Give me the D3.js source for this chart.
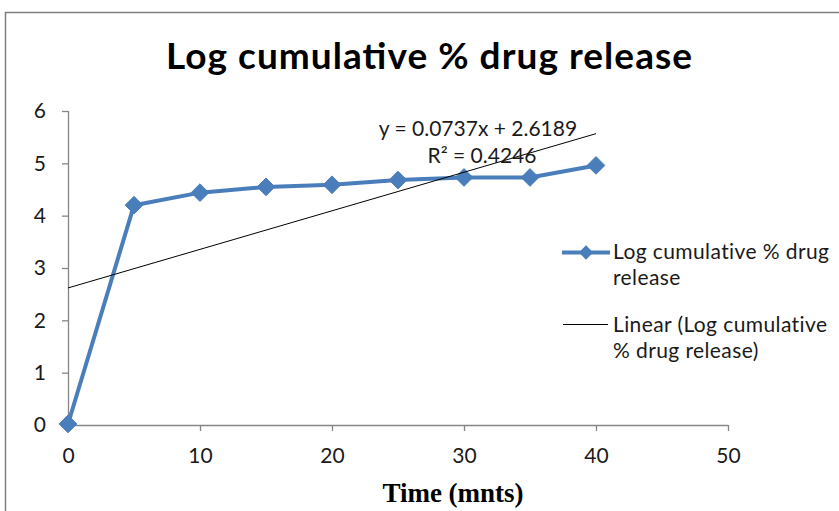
<!DOCTYPE html>
<html>
<head>
<meta charset="utf-8">
<script src="https://cdn.jsdelivr.net/npm/d3@7"></script>
<style>
  html, body { margin: 0; padding: 0; background: #fff; }
  svg { display: block; }
</style>
</head>
<body>
<svg id="chart" width="839" height="511"></svg>
<script>
// Release data: time in minutes and log cumulative % drug release
const times = [0, 5, 10, 15, 20, 25, 30, 35, 40];
const logRelease = [0.02, 4.20, 4.44, 4.55, 4.59, 4.68, 4.73, 4.73, 4.96];
const xTicks = [0, 10, 20, 30, 40, 50];
const yTicks = [0, 1, 2, 3, 4, 5, 6];
// Linear trendline coefficients
const slope = 0.0737;
const intercept = 2.6189;
const rSquared = 0.4246;

const titleText = "Log cumulative % drug release";
const xTitle = "Time (mnts)";
const legendSeries = ["Log cumulative % drug", "release"];
const legendTrend = ["Linear (Log cumulative", "% drug release)"];

const svg = d3.select("#chart");
const sans = "Lato, 'Open Sans', sans-serif";
const blue = "#4a7ebb";
const axisGray = "#868686";
const textFill = "#1a1a1a";

// Outer chart frame
svg.append("path")
  .attr("d", "M5.5,511 L5.5,12.5 L839,12.5")
  .attr("fill", "none").attr("stroke", "#7f7f7f").attr("stroke-width", 1.5);

const x = d3.scaleLinear().domain([0, 50]).range([68, 728]);
const y = d3.scaleLinear().domain([0, 6]).range([425, 111]);

// Title
svg.append("text")
  .attr("x", 166).attr("y", 69)
  .attr("font-family", sans).attr("font-weight", "bold")
  .attr("font-size", 37)
  .attr("textLength", 526).attr("lengthAdjust", "spacing")
  .attr("fill", "#000")
  .text(titleText);

// Axes
const xAxis = d3.axisBottom(x).tickValues(xTicks).tickSize(6).tickPadding(17).tickFormat(d3.format("d"));
const yAxis = d3.axisLeft(y).tickValues(yTicks).tickSize(6).tickPadding(16).tickFormat(d3.format("d"));

const gx = svg.append("g").attr("transform", `translate(0,${y(0)})`).call(xAxis);
const gy = svg.append("g").attr("transform", `translate(${x(0)},0)`).call(yAxis);

[gx, gy].forEach(g => {
  g.select(".domain").attr("stroke", axisGray).attr("stroke-width", 1.3);
  g.selectAll(".tick line").attr("stroke", axisGray).attr("stroke-width", 1.3);
  g.selectAll(".tick text")
    .attr("font-family", sans).attr("font-size", 21).attr("fill", textFill);
});
// plain axis lines without end caps
gx.select(".domain").attr("d", `M${x(0)},0.5H${x(50)}`);
gy.select(".domain").attr("d", `M0.5,${y(6)}V${y(0)}`);

// X axis title
svg.append("text")
  .attr("x", 453).attr("y", 502)
  .attr("text-anchor", "middle")
  .attr("font-family", "'Liberation Serif', 'Times New Roman', serif")
  .attr("font-weight", "bold").attr("font-size", 27)
  .text(xTitle);

// Series line
const line = d3.line().x((d, i) => x(times[i])).y(d => y(d));
svg.append("path")
  .datum(logRelease)
  .attr("d", line)
  .attr("fill", "none")
  .attr("stroke", blue)
  .attr("stroke-width", 4)
  .attr("stroke-linejoin", "round");

// Diamond markers
const diamond = d3.symbol().type(d3.symbolDiamond2).size(200);
svg.selectAll(".marker")
  .data(logRelease)
  .join("path")
  .attr("class", "marker")
  .attr("transform", (d, i) => `translate(${x(times[i])},${y(d)})`)
  .attr("d", diamond)
  .attr("fill", blue)
  .attr("stroke", blue).attr("stroke-width", 1);

// Linear trendline across the data range
const tx0 = d3.min(times), tx1 = d3.max(times);
svg.append("line")
  .attr("x1", x(tx0)).attr("y1", y(intercept + slope * tx0))
  .attr("x2", x(tx1)).attr("y2", y(intercept + slope * tx1))
  .attr("stroke", "#000").attr("stroke-width", 1);

// Trendline equation
const eq = svg.append("g")
  .attr("font-family", sans).attr("font-size", 21).attr("fill", textFill)
  .attr("text-anchor", "middle");
eq.append("text").attr("x", 478).attr("y", 136)
  .text(`y = ${slope}x + ${intercept}`);
eq.append("text").attr("x", 482).attr("y", 163)
  .text(`R² = ${rSquared}`);

// Legend
const leg = svg.append("g").attr("font-family", sans).attr("font-size", 21)
  .attr("letter-spacing", 0.4).attr("fill", textFill);
leg.append("line").attr("x1", 562).attr("x2", 610).attr("y1", 252.5).attr("y2", 252.5)
  .attr("stroke", blue).attr("stroke-width", 4);
leg.append("path").attr("transform", "translate(586,252.5)")
  .attr("d", d3.symbol().type(d3.symbolDiamond2).size(130))
  .attr("fill", blue);
legendSeries.forEach((t, i) => {
  leg.append("text").attr("x", 613).attr("y", 259 + i * 26).text(t);
});
leg.append("line").attr("x1", 563).attr("x2", 608).attr("y1", 324.5).attr("y2", 324.5)
  .attr("stroke", "#000").attr("stroke-width", 1);
legendTrend.forEach((t, i) => {
  leg.append("text").attr("x", 613).attr("y", 332 + i * 26).text(t);
});
</script>
</body>
</html>
